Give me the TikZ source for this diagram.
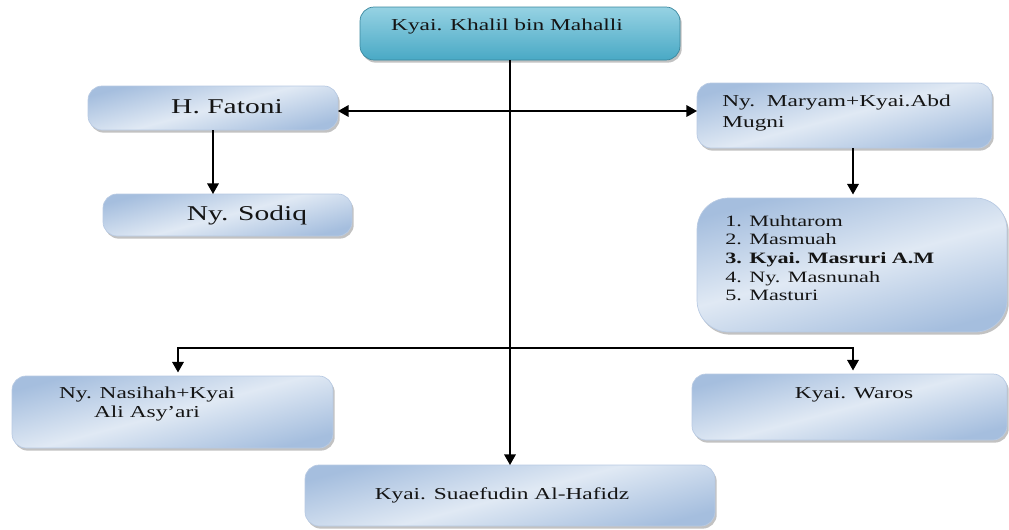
\documentclass[tikz,border=0pt]{standalone}
\usepackage{fontspec}
\setmainfont[FakeStretch=1.4]{Liberation Serif}
\usetikzlibrary{arrows.meta,shadows}
\definecolor{boxdark}{HTML}{A5BEDE}
\definecolor{boxlight}{HTML}{E0E9F4}
\definecolor{rimblue}{HTML}{B8CAE3}
\definecolor{tealtop}{HTML}{96D2E3}
\definecolor{tealbot}{HTML}{49A9C5}
\definecolor{inkdark}{HTML}{141414}
\begin{document}
\begin{tikzpicture}[x=0.02cm, y=-0.02cm,
  box/.style={rounded corners=8, draw=rimblue, line width=0.4pt, inner sep=0, outer sep=0,
    top color=boxdark, bottom color=boxdark, middle color=boxlight, shading angle=15,
    drop shadow={shadow xshift=1pt, shadow yshift=-1.5pt, fill=black!40, opacity=0.6}},
  topbox/.style={box, top color=tealtop, bottom color=tealbot, draw=tealbot!80!black},
  txt/.style={inner sep=0, text=inkdark, font=\fontsize{9.5}{10.5}\selectfont},
  bigtxt/.style={txt, font=\fontsize{12}{14}\selectfont},
  link/.style={line width=1pt, -{Triangle[length=6pt,width=6.5pt]}},
  twolink/.style={line width=1pt, {Triangle[length=6pt,width=6.5pt]}-{Triangle[length=6pt,width=6.5pt]}}]
  \useasboundingbox (0,0) rectangle (1009,529);

  \node[topbox, minimum width=6.4cm, minimum height=1.06cm] (khalil) at (520,33.5) {};
  \node[box, minimum width=5cm, minimum height=0.88cm] (fatoni) at (213,108) {};
  \node[box, minimum width=4.98cm, minimum height=0.84cm] (sodiq) at (227.5,215) {};
  \node[box, minimum width=5.9cm, minimum height=1.3cm] (maryam) at (844.5,115.5) {};
  \node[box, rounded corners=18, minimum width=6.2cm, minimum height=2.68cm] (anak) at (852,265) {};
  \node[box, minimum width=6.42cm, minimum height=1.44cm] (nasihah) at (172.5,412) {};
  \node[box, minimum width=6.3cm, minimum height=1.32cm] (waros) at (849.5,407) {};
  \node[box, minimum width=8.2cm, minimum height=1.22cm] (suaefudin) at (510,495.5) {};

  \node[txt] (t-khalil) at (507,27) {Kyai. Khalil bin Mahalli};
  \node[bigtxt] (t-fatoni) at (227,107) {H. Fatoni};
  \node[bigtxt] (t-sodiq) at (247,215) {Ny. Sodiq};
  \node[txt, anchor=west, align=left, font=\fontsize{9.5}{12.5}\selectfont] (t-maryam) at (722,113)
    {Ny.\ \ Maryam+Kyai.Abd\\Mugni};
  \node[txt, anchor=west, align=left, font=\fontsize{9}{10.6}\selectfont] (t-anak) at (725,258)
    {1. Muhtarom\\2. Masmuah\\\textbf{3. Kyai. Masruri A.M}\\4. Ny. Masnunah\\5. Masturi};
  \node[txt, align=center, font=\fontsize{9.5}{10.3}\selectfont] (t-nasihah) at (147,404)
    {Ny. Nasihah+Kyai\\Ali Asy'ari};
  \node[txt] (t-waros) at (854,395) {Kyai. Waros};
  \node[txt] (t-suaefudin) at (502,495) {Kyai. Suaefudin Al-Hafidz};

  \coordinate (trunk) at (510,0);
  \coordinate (cabang) at (0,111);
  \coordinate (kiri) at (178,348);
  \coordinate (kanan) at (853,348);
  \coordinate (turun) at (853,0);

  \draw[link] (trunk |- khalil.south) -- (trunk |- suaefudin.north);
  \draw[twolink] (fatoni.east |- cabang) -- (maryam.west |- cabang);
  \draw[link] (fatoni.south) -- (fatoni.south |- sodiq.north);
  \draw[link] (turun |- maryam.south) -- ([yshift=2pt]turun |- anak.north);
  \draw[twolink] ([yshift=2pt]kiri |- nasihah.north) -- (kiri) -- (kanan) -- ([yshift=2pt]kanan |- waros.north);
\end{tikzpicture}
\end{document}
